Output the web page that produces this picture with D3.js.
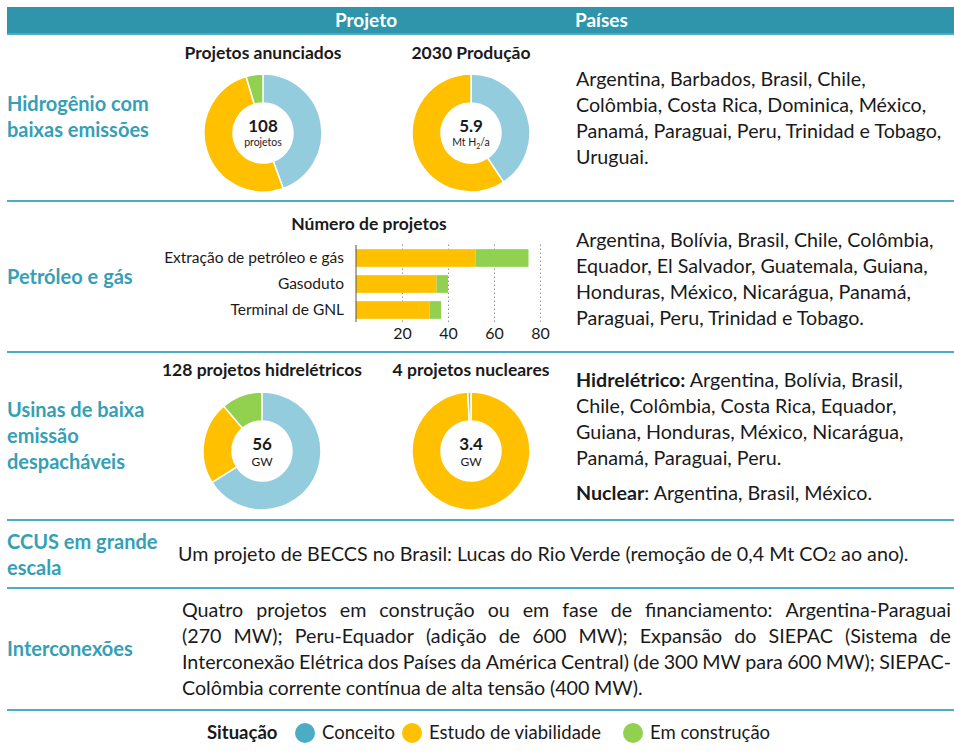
<!DOCTYPE html>
<html>
<head>
<meta charset="utf-8">
<script src="https://cdn.jsdelivr.net/npm/d3@7"></script>
<style>
  body { margin: 0; background: #fff; }
  svg { display: block; font-family: Lato, 'Open Sans', sans-serif; }
</style>
</head>
<body>
<svg id="chart"></svg>
<script>
let width = 954
let height = 753

// status categories
const statusNames = ['Conceito', 'Estudo de viabilidade', 'Em construção']
const donutColors = ['#93CDDD', '#FFC000', '#92D050']
const legendColors = ['#4BACC6', '#FFC000', '#92D050']

// donut values (Conceito, Estudo de viabilidade, Em construção)
const h2Projects = [48, 55, 5]
const h2Production = [2.4, 3.5, 0]
const hydroCapacity = [37, 12.7, 6.3]
const nuclearCapacity = [0, 3.37, 0.03]

// oil & gas bars
const oilGasCategories = ['Extração de petróleo e gás', 'Gasoduto', 'Terminal de GNL']
const oilGasFeasibility = [52, 35, 32]
const oilGasConstruction = [23, 5, 5]
const oilGasTicks = [20, 40, 60, 80]

const rowLabels = [
  ['Hidrogênio com', 'baixas emissões'],
  ['Petróleo e gás'],
  ['Usinas de baixa', 'emissão', 'despacháveis'],
  ['CCUS em grande', 'escala'],
  ['Interconexões']
]

const teal = '#2E95AB'
const lineColor = '#4BACC6'
const labelColor = '#369FB6'
const textColor = '#1a1a1a'
const bodySize = '19.7px'

let svg = d3.select('#chart')
  .attr('width', width)
  .attr('height', height)

// header
svg.append('rect').attr('x', 7).attr('y', 7).attr('width', width - 7).attr('height', 26).attr('fill', teal)
svg.append('rect').attr('x', 7).attr('y', 33).attr('width', width - 7).attr('height', 2).attr('fill', lineColor)
svg.append('text').attr('x', 366).attr('y', 27).attr('text-anchor', 'middle')
  .attr('fill', '#fff').style('font-weight', 700).style('font-size', '19px').text('Projeto')
svg.append('text').attr('x', 575).attr('y', 27)
  .attr('fill', '#fff').style('font-weight', 700).style('font-size', '19px').text('Países')

// separators
;[201, 352, 520, 588, 710].forEach(y => {
  svg.append('line').attr('x1', 7).attr('x2', width).attr('y1', y).attr('y2', y)
    .attr('stroke', lineColor).attr('stroke-width', 2)
})

// left row labels
const labelBaselines = [[111, 137], [284], [417, 443, 469], [549, 575], [656]]
rowLabels.forEach((lines, i) => {
  lines.forEach((t, j) => {
    svg.append('text').attr('x', 7).attr('y', labelBaselines[i][j])
      .attr('fill', labelColor).style('font-weight', 700).style('font-size', '20px').text(t)
  })
})

// donuts
function donut (cx, cy, values, title, titleY, big, small, smallSize, smallY, smallSub) {
  let g = svg.append('g').attr('transform', `translate(${cx},${cy})`)
  let pie = d3.pie().sort(null)
  let arc = d3.arc().innerRadius(30).outerRadius(59)
  g.selectAll('path')
    .data(pie(values))
    .enter()
    .append('path')
      .attr('d', arc)
      .attr('fill', (d, i) => donutColors[i])
      .attr('stroke', '#fff')
      .attr('stroke-width', d => d.value > 0 ? 1.5 : 0)
  svg.append('text').attr('x', cx).attr('y', titleY).attr('text-anchor', 'middle')
    .attr('fill', textColor).style('font-weight', 700).style('font-size', '17.5px').text(title)
  g.append('text').attr('y', -1).attr('text-anchor', 'middle')
    .attr('fill', textColor).style('font-weight', 700).style('font-size', '17px').text(big)
  let t = g.append('text').attr('y', smallY).attr('text-anchor', 'middle')
    .attr('fill', textColor).style('font-size', smallSize)
  t.append('tspan').text(small)
  if (smallSub) {
    t.append('tspan').attr('dy', 3).style('font-size', '7px').text(smallSub[0])
    t.append('tspan').attr('dy', -3).text(smallSub[1])
  }
}

donut(263, 133, h2Projects, 'Projetos anunciados', 59, '108', 'projetos', '10.5px', 13)
donut(471, 133, h2Production, '2030 Produção', 59, '5.9', 'Mt H', '10.5px', 13, ['2', '/a'])
donut(262, 451, hydroCapacity, '128 projetos hidrelétricos', 376, '56', 'GW', '12px', 15)
donut(471, 451, nuclearCapacity, '4 projetos nucleares', 376, '3.4', 'GW', '12px', 15)

// oil & gas bar chart
let xScale = d3.scaleLinear().domain([0, 80]).range([356, 540])
let yScale = d3.scaleBand().domain(oilGasCategories).range([245, 323]).paddingInner(0.32).paddingOuter(0.16)

svg.append('text').attr('x', 369).attr('y', 230).attr('text-anchor', 'middle')
  .attr('fill', textColor).style('font-weight', 700).style('font-size', '17.5px').text('Número de projetos')

let xAxis = d3.axisBottom(xScale)
  .tickValues(oilGasTicks)
  .tickSize(-80)
  .tickSizeOuter(0)

let axisG = svg.append('g')
  .attr('transform', 'translate(0, 322)')
  .call(xAxis)
axisG.select('.domain').remove()
axisG.selectAll('.tick line').attr('stroke', '#999').attr('stroke-dasharray', '1.5,2.5').attr('stroke-width', 1)
axisG.selectAll('.tick text').attr('y', 6).attr('dy', '0.71em')
  .attr('fill', textColor).style('font-size', '16px').style('font-family', 'Lato, sans-serif')

let stackData = oilGasCategories.map((c, i) => ({ cat: c, feas: oilGasFeasibility[i], cons: oilGasConstruction[i] }))

svg.selectAll('.bar-feas')
  .data(stackData)
  .enter()
  .append('rect')
    .attr('x', xScale(0))
    .attr('y', d => yScale(d.cat))
    .attr('width', d => xScale(d.feas) - xScale(0))
    .attr('height', yScale.bandwidth())
    .attr('fill', donutColors[1])

svg.selectAll('.bar-cons')
  .data(stackData)
  .enter()
  .append('rect')
    .attr('x', d => xScale(d.feas))
    .attr('y', d => yScale(d.cat))
    .attr('width', d => xScale(d.feas + d.cons) - xScale(d.feas))
    .attr('height', yScale.bandwidth())
    .attr('fill', donutColors[2])

svg.append('line').attr('x1', xScale(0)).attr('x2', xScale(0)).attr('y1', 245).attr('y2', 322)
  .attr('stroke', '#555').attr('stroke-width', 1)

svg.selectAll('.cat-label')
  .data(oilGasCategories)
  .enter()
  .append('text')
    .attr('x', 344)
    .attr('y', d => yScale(d) + yScale.bandwidth() / 2 + 5)
    .attr('text-anchor', 'end')
    .attr('fill', textColor)
    .style('font-size', '15.5px')
    .text(d => d)

// countries
const countryBlocks = [
  { y: 86, lines: ['Argentina, Barbados, Brasil, Chile,', 'Colômbia, Costa Rica, Dominica, México,', 'Panamá, Paraguai, Peru, Trinidad e Tobago,', 'Uruguai.'] },
  { y: 247, lines: ['Argentina, Bolívia, Brasil, Chile, Colômbia,', 'Equador, El Salvador, Guatemala, Guiana,', 'Honduras, México, Nicarágua, Panamá,', 'Paraguai, Peru, Trinidad e Tobago.'] },
  { y: 387, lines: [['Hidrelétrico:', ' Argentina, Bolívia, Brasil,'], 'Chile, Colômbia, Costa Rica, Equador,', 'Guiana, Honduras, México, Nicarágua,', 'Panamá, Paraguai, Peru.'] }
]
countryBlocks.forEach(b => {
  b.lines.forEach((l, j) => {
    let t = svg.append('text').attr('x', 576).attr('y', b.y + j * 26)
      .attr('fill', textColor).style('font-size', bodySize)
    if (Array.isArray(l)) {
      t.append('tspan').style('font-weight', 700).text(l[0])
      t.append('tspan').text(l[1])
    } else {
      t.text(l)
    }
  })
})
let nuc = svg.append('text').attr('x', 576).attr('y', 500).attr('fill', textColor).style('font-size', bodySize)
nuc.append('tspan').style('font-weight', 700).text('Nuclear')
nuc.append('tspan').text(': Argentina, Brasil, México.')

// CCUS
let ccus = svg.append('text').attr('x', 178).attr('y', 561).attr('fill', textColor).style('font-size', bodySize)
ccus.append('tspan').text('Um projeto de BECCS no Brasil: Lucas do Rio Verde (remoção de 0,4 Mt CO')
ccus.append('tspan').style('font-size', '14px').text('2')
ccus.append('tspan').text(' ao ano).')

// interconnections, justified
const interLines = [
  'Quatro projetos em construção ou em fase de financiamento: Argentina-Paraguai',
  '(270 MW); Peru-Equador (adição de 600 MW); Expansão do SIEPAC (Sistema de',
  'Interconexão Elétrica dos Países da América Central) (de 300 MW para 600 MW); SIEPAC-',
  'Colômbia corrente contínua de alta tensão (400 MW).'
]
interLines.forEach((line, j) => {
  let y = 617 + j * 26
  let words = line.split(' ')
  let last = j === interLines.length - 1
  let nodes = words.map(w => svg.append('text').attr('y', y).attr('fill', textColor).style('font-size', bodySize).text(w))
  let widths = nodes.map(n => n.node().getComputedTextLength())
  let total = d3.sum(widths)
  let gap = last ? 4.6 : (951 - 182 - total) / (words.length - 1)
  let x = 182
  nodes.forEach((n, k) => { n.attr('x', x); x += widths[k] + gap })
})

// legend
let legend = svg.append('g')
legend.append('text').attr('x', 207).attr('y', 739).attr('fill', textColor)
  .style('font-weight', 700).style('font-size', '18.5px').text('Situação')
const legendX = [305, 412, 633]
statusNames.forEach((s, i) => {
  legend.append('circle').attr('cx', legendX[i]).attr('cy', 733).attr('r', 10).attr('fill', legendColors[i])
  legend.append('text').attr('x', legendX[i] + 17).attr('y', 739).attr('fill', textColor)
    .style('font-size', '18.5px').text(s)
})
</script>
</body>
</html>
